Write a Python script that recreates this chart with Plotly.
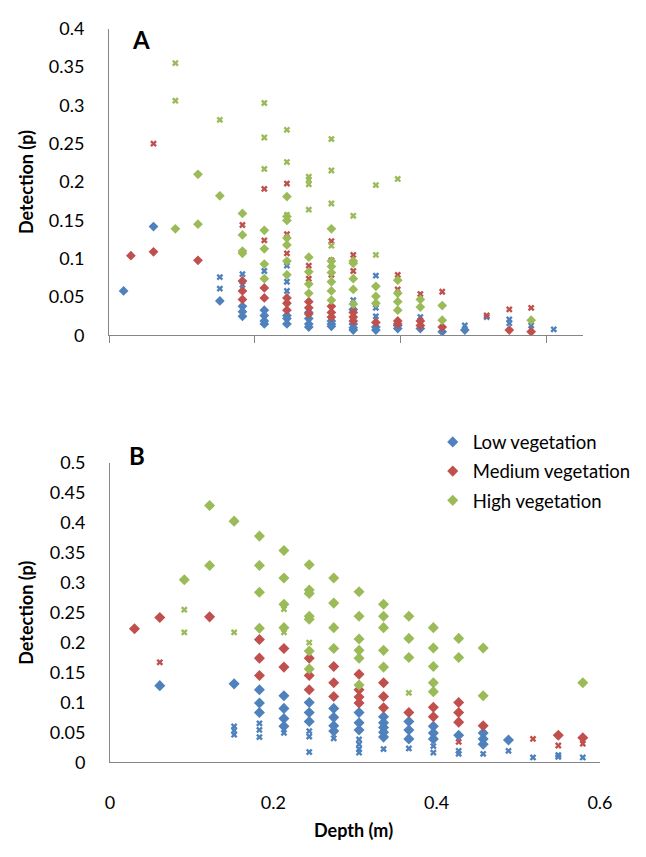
import plotly.graph_objects as go

# ---------------- Panel A data ----------------
a_low_d_x = [0.02, 0.061, 0.152, 0.183, 0.183, 0.183, 0.213, 0.213, 0.213, 0.213, 0.244, 0.244, 0.244,
             0.274, 0.274, 0.274, 0.274, 0.305, 0.305, 0.305, 0.335, 0.335, 0.335, 0.335, 0.366, 0.366,
             0.396, 0.396, 0.427, 0.457, 0.488]
a_low_d_y = [0.058, 0.142, 0.045, 0.038, 0.031, 0.025, 0.033, 0.026, 0.019, 0.015, 0.026, 0.022, 0.015,
             0.030, 0.022, 0.015, 0.011, 0.019, 0.015, 0.012, 0.034, 0.015, 0.010, 0.007, 0.011, 0.007,
             0.013, 0.009, 0.009, 0.005, 0.007]

a_med_d_x = [0.03, 0.061, 0.122, 0.183, 0.183, 0.183, 0.213, 0.213, 0.244, 0.244, 0.244, 0.274, 0.274, 0.274,
             0.305, 0.305, 0.305, 0.335, 0.335, 0.335, 0.366, 0.396, 0.396, 0.427, 0.427, 0.457, 0.549, 0.579]
a_med_d_y = [0.104, 0.109, 0.098, 0.071, 0.058, 0.047, 0.062, 0.049, 0.049, 0.042, 0.033, 0.044, 0.036, 0.028,
             0.038, 0.030, 0.024, 0.030, 0.024, 0.019, 0.017, 0.019, 0.015, 0.019, 0.013, 0.011, 0.007, 0.005]

a_high_d_x = [0.091, 0.122, 0.122, 0.152, 0.183, 0.183, 0.183, 0.183, 0.213, 0.213, 0.213, 0.213,
              0.244, 0.244, 0.244, 0.244, 0.244, 0.244, 0.244, 0.274, 0.274, 0.274, 0.274,
              0.305, 0.305, 0.305, 0.305, 0.305, 0.305, 0.305, 0.335, 0.335, 0.335, 0.335, 0.335,
              0.366, 0.366, 0.366, 0.396, 0.396, 0.396, 0.396, 0.427, 0.427, 0.457, 0.457, 0.579]
a_high_d_y = [0.139, 0.210, 0.145, 0.182, 0.159, 0.131, 0.110, 0.107, 0.137, 0.113, 0.093, 0.074,
              0.181, 0.155, 0.150, 0.127, 0.118, 0.097, 0.079, 0.102, 0.083, 0.067, 0.055,
              0.139, 0.097, 0.090, 0.082, 0.070, 0.058, 0.046, 0.097, 0.094, 0.074, 0.060, 0.041,
              0.064, 0.051, 0.042, 0.072, 0.055, 0.044, 0.033, 0.047, 0.037, 0.039, 0.020, 0.020]

a_low_x_x = [0.152, 0.152, 0.183, 0.183, 0.213, 0.244, 0.244, 0.244, 0.335, 0.366, 0.366, 0.366,
             0.427, 0.488, 0.518, 0.549, 0.549, 0.579, 0.61]
a_low_x_y = [0.076, 0.061, 0.080, 0.066, 0.084, 0.091, 0.070, 0.058, 0.046, 0.078, 0.036, 0.025,
             0.024, 0.013, 0.024, 0.021, 0.016, 0.013, 0.008]

a_med_x_x = [0.061, 0.183, 0.213, 0.213, 0.244, 0.244, 0.244, 0.274, 0.274, 0.305, 0.305, 0.305,
             0.335, 0.335, 0.396, 0.396, 0.427, 0.457, 0.518, 0.549, 0.579]
a_med_x_y = [0.250, 0.144, 0.191, 0.124, 0.198, 0.132, 0.107, 0.091, 0.074, 0.123, 0.098, 0.079,
             0.105, 0.084, 0.079, 0.060, 0.054, 0.057, 0.026, 0.034, 0.036]

a_high_x_x = [0.091, 0.091, 0.152, 0.213, 0.213, 0.213, 0.244, 0.244, 0.244, 0.274, 0.274, 0.274, 0.274,
              0.305, 0.305, 0.305, 0.305, 0.335, 0.366, 0.366, 0.396]
a_high_x_y = [0.355, 0.306, 0.281, 0.303, 0.258, 0.217, 0.268, 0.226, 0.157, 0.207, 0.203, 0.197, 0.164,
              0.256, 0.215, 0.172, 0.117, 0.156, 0.196, 0.105, 0.204]

# ---------------- Panel B data ----------------
b_low_d_x = [0.061, 0.152, 0.183, 0.183, 0.183, 0.213, 0.213, 0.213, 0.213, 0.244, 0.244, 0.244,
             0.274, 0.274, 0.274, 0.274, 0.305, 0.305, 0.305, 0.335, 0.335, 0.335, 0.335, 0.335,
             0.366, 0.366, 0.366, 0.396, 0.396, 0.396, 0.427, 0.457, 0.457, 0.457, 0.488]
b_low_d_y = [0.128, 0.131, 0.121, 0.099, 0.083, 0.111, 0.090, 0.073, 0.060, 0.100, 0.083, 0.068,
             0.090, 0.075, 0.061, 0.052, 0.083, 0.066, 0.054, 0.076, 0.066, 0.058, 0.050, 0.042,
             0.068, 0.054, 0.039, 0.060, 0.049, 0.039, 0.045, 0.049, 0.039, 0.030, 0.037]

b_med_d_x = [0.03, 0.061, 0.122, 0.183, 0.183, 0.183, 0.213, 0.213, 0.244, 0.244, 0.244,
             0.274, 0.274, 0.274, 0.305, 0.305, 0.305, 0.305, 0.335, 0.335, 0.335, 0.366,
             0.396, 0.396, 0.427, 0.427, 0.427, 0.457, 0.549, 0.579]
b_med_d_y = [0.223, 0.242, 0.243, 0.205, 0.174, 0.145, 0.190, 0.159, 0.174, 0.145, 0.121,
             0.160, 0.133, 0.110, 0.147, 0.121, 0.109, 0.099, 0.133, 0.110, 0.091, 0.083,
             0.092, 0.076, 0.100, 0.083, 0.067, 0.061, 0.045, 0.041]

b_high_d_x = [0.091, 0.122, 0.122, 0.152, 0.183, 0.183, 0.183, 0.183, 0.213, 0.213, 0.213, 0.213,
              0.244, 0.244, 0.244, 0.244, 0.244, 0.244, 0.244, 0.274, 0.274, 0.274, 0.274,
              0.305, 0.305, 0.305, 0.305, 0.305, 0.305, 0.335, 0.335, 0.335, 0.335, 0.335,
              0.366, 0.366, 0.366, 0.396, 0.396, 0.396, 0.396, 0.396, 0.427, 0.427, 0.457, 0.457, 0.579]
b_high_d_y = [0.305, 0.429, 0.329, 0.403, 0.378, 0.329, 0.284, 0.224, 0.354, 0.308, 0.264, 0.225,
              0.330, 0.288, 0.282, 0.244, 0.239, 0.186, 0.156, 0.308, 0.266, 0.225, 0.190,
              0.285, 0.244, 0.206, 0.187, 0.174, 0.129, 0.264, 0.244, 0.225, 0.187, 0.159,
              0.244, 0.207, 0.175, 0.225, 0.191, 0.160, 0.133, 0.118, 0.207, 0.175, 0.191, 0.111, 0.133]

b_low_x_x = [0.152, 0.152, 0.152, 0.183, 0.183, 0.183, 0.213, 0.244, 0.244, 0.244, 0.274,
             0.305, 0.305, 0.305, 0.305, 0.335, 0.366, 0.396, 0.396, 0.427, 0.427, 0.457,
             0.488, 0.518, 0.549, 0.549, 0.579]
b_low_x_y = [0.060, 0.053, 0.046, 0.065, 0.054, 0.042, 0.049, 0.052, 0.043, 0.017, 0.040,
             0.038, 0.030, 0.022, 0.016, 0.022, 0.023, 0.027, 0.016, 0.019, 0.014, 0.014,
             0.019, 0.008, 0.012, 0.009, 0.008]

b_med_x_x = [0.061, 0.427, 0.518, 0.549, 0.579]
b_med_x_y = [0.167, 0.034, 0.039, 0.028, 0.031]

b_high_x_x = [0.091, 0.091, 0.152, 0.213, 0.213, 0.244, 0.366]
b_high_x_y = [0.255, 0.217, 0.217, 0.256, 0.217, 0.200, 0.116]

# ---------------- Axis ticks ----------------
a_y_ticks = [0, 0.05, 0.1, 0.15, 0.2, 0.25, 0.3, 0.35, 0.4]
a_y_text = ["0", "0.05", "0.1", "0.15", "0.2", "0.25", "0.3", "0.35", "0.4"]
b_y_ticks = [0, 0.05, 0.1, 0.15, 0.2, 0.25, 0.3, 0.35, 0.4, 0.45, 0.5]
b_y_text = ["0", "0.05", "0.1", "0.15", "0.2", "0.25", "0.3", "0.35", "0.4", "0.45", "0.5"]
b_x_ticks = [0, 0.2, 0.4, 0.6]
b_x_text = ["0", "0.2", "0.4", "0.6"]
a_x_ticks = [0, 0.2, 0.4, 0.6]

series_names = ["Low vegetation", "Medium vegetation", "High vegetation"]
colors = ["#4F81BD", "#C0504D", "#9BBB59"]

W, H = 646, 857
FONT = "Lato"
AXIS_COL = "#868686"

fig = go.Figure()

def add_x(xs, ys, col, xa, ya):
    fig.add_trace(go.Scatter(x=xs, y=ys, mode="markers", xaxis=xa, yaxis=ya, showlegend=False,
                             hoverinfo="skip",
                             marker=dict(symbol="x", size=6, color=col, line=dict(width=0))))

def add_d(xs, ys, col, xa, ya, size, name=None, legend=None):
    fig.add_trace(go.Scatter(x=xs, y=ys, mode="markers", xaxis=xa, yaxis=ya,
                             name=name, showlegend=legend is not None,
                             legend=legend if legend else "legend",
                             marker=dict(symbol="diamond", size=size, color=col, line=dict(width=0))))

# Panel A
add_x(a_low_x_x, a_low_x_y, colors[0], "x", "y")
add_x(a_med_x_x, a_med_x_y, colors[1], "x", "y")
add_x(a_high_x_x, a_high_x_y, colors[2], "x", "y")
add_d(a_low_d_x, a_low_d_y, colors[0], "x", "y", 7.5)
add_d(a_med_d_x, a_med_d_y, colors[1], "x", "y", 7.5)
add_d(a_high_d_x, a_high_d_y, colors[2], "x", "y", 7.5)

# Panel B
add_x(b_low_x_x, b_low_x_y, colors[0], "x2", "y2")
add_x(b_med_x_x, b_med_x_y, colors[1], "x2", "y2")
add_x(b_high_x_x, b_high_x_y, colors[2], "x2", "y2")
add_d(b_low_d_x, b_low_d_y, colors[0], "x2", "y2", 8.5, series_names[0], "legend")
add_d(b_med_d_x, b_med_d_y, colors[1], "x2", "y2", 8.5, series_names[1], "legend2")
add_d(b_high_d_x, b_high_d_y, colors[2], "x2", "y2", 8.5, series_names[2], "legend3")

tickfont = dict(family=FONT, size=18, color="#000000")

# pixel layout
a_left, a_right, a_top, a_bot = 107, 594.5, 17, 332
b_left, b_right, b_top, b_bot = 108, 612, 463, 770

def px(v):
    return v / W

def py(v):
    return 1 - v / H

fig.update_layout(
    width=W, height=H, margin=dict(l=0, r=0, t=0, b=0),
    paper_bgcolor="white", plot_bgcolor="white",
    font=dict(family=FONT, size=18, color="#000000"),
    xaxis=dict(domain=[px(a_left), px(a_right)], range=[0, 0.65], anchor="y",
               showgrid=False, zeroline=False, showline=True, linecolor=AXIS_COL, linewidth=1,
               tickvals=a_x_ticks, showticklabels=False, ticks="outside", ticklen=7,
               tickcolor=AXIS_COL, tickwidth=1),
    yaxis=dict(domain=[py(a_bot), py(a_top)], range=[0, 0.4], anchor="x",
               showgrid=False, zeroline=False, showline=True, linecolor=AXIS_COL, linewidth=1,
               tickvals=a_y_ticks, ticktext=a_y_text, ticks="", tickfont=tickfont,
               ticklabelstandoff=20),
    xaxis2=dict(domain=[px(b_left), px(b_right)], range=[0, 0.6], anchor="y2",
                showgrid=False, zeroline=False, showline=True, linecolor=AXIS_COL, linewidth=1,
                tickvals=b_x_ticks, ticktext=b_x_text, ticks="", tickfont=tickfont,
                ticklabelstandoff=24),
    yaxis2=dict(domain=[py(b_bot), py(b_top)], range=[0, 0.5], anchor="x2",
                showgrid=False, zeroline=False, showline=True, linecolor=AXIS_COL, linewidth=1,
                tickvals=b_y_ticks, ticktext=b_y_text, ticks="", tickfont=tickfont,
                ticklabelstandoff=20),
)

leg_common = dict(x=px(440), xanchor="left", yanchor="middle", bgcolor="rgba(0,0,0,0)",
                  font=dict(family=FONT, size=18.5, color="#000000"), borderwidth=0,
                  itemwidth=30)
fig.update_layout(
    legend=dict(y=py(441.7), **leg_common),
    legend2=dict(y=py(471.7), **leg_common),
    legend3=dict(y=py(501.7), **leg_common),
)

title_font = dict(family=FONT, size=18, color="#000000")
fig.add_annotation(x=px(21.7), y=py(174.5), xref="paper", yref="paper", text="<b>Detection (p)</b>",
                   textangle=-90, showarrow=False, font=title_font, xanchor="center", yanchor="middle")
fig.add_annotation(x=px(21.7), y=py(616.5), xref="paper", yref="paper", text="<b>Detection (p)</b>",
                   textangle=-90, showarrow=False, font=title_font, xanchor="center", yanchor="middle")
fig.add_annotation(x=px(358), y=py(840), xref="paper", yref="paper", text="<b>Depth (m)</b>",
                   showarrow=False, font=title_font, xanchor="center", yanchor="middle")
fig.add_annotation(x=px(140), y=py(28.7), xref="paper", yref="paper", text="<b>A</b>",
                   showarrow=False, font=dict(family=FONT, size=24, color="#000000"),
                   xanchor="center", yanchor="middle")
fig.add_annotation(x=px(136), y=py(455), xref="paper", yref="paper", text="<b>B</b>",
                   showarrow=False, font=dict(family=FONT, size=24, color="#000000"),
                   xanchor="center", yanchor="middle")

fig.write_html("out.html")
